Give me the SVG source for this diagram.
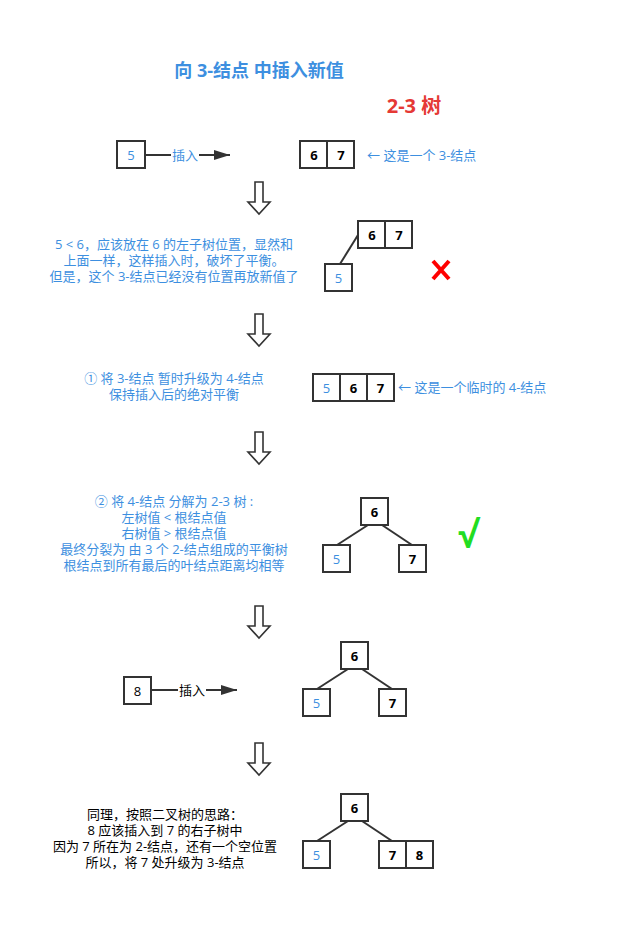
<svg xmlns="http://www.w3.org/2000/svg" width="618" height="930" viewBox="0 0 618 930">
<style>
text{font-family:"Open Sans","Noto Sans CJK SC",sans-serif;font-size:13px}
.b{fill:#3d8fe0}.k{fill:#000}
.n{fill:#fff;stroke:#333;stroke-width:2}
.v{font-size:13px;font-weight:bold;text-anchor:middle}
.c{text-anchor:middle}
.l{stroke:#333;stroke-width:2;fill:none}
.d{fill:#fff;stroke:#333;stroke-width:1.6}
</style>
<defs>
<marker id="ah" markerWidth="16" markerHeight="10" refX="16" refY="5" orient="auto" markerUnits="userSpaceOnUse"><path d="M0,0L16,5L0,10z" fill="#333"/></marker>
<path id="da" d="M-4,0H4V20H11L0,32L-11,20H-4Z"/>
</defs>
<rect width="618" height="930" fill="#fff"/>
<text x="259" y="77" class="b c" style="font-size:18px;font-weight:bold">向 3-结点 中插入新值</text>
<text x="414" y="113" class="c" style="font-size:20px;font-weight:bold;fill:#e53935">2-3 树</text>
<g id="connectors">
<line x1="145" y1="155" x2="230" y2="155" class="l" marker-end="url(#ah)"/>
<line x1="151" y1="690" x2="237" y2="690" class="l" marker-end="url(#ah)"/>
<line x1="340" y1="264" x2="358" y2="235" class="l"/>
<line x1="368" y1="525" x2="337" y2="545" class="l"/>
<line x1="382" y1="525" x2="412" y2="545" class="l"/>
<line x1="348" y1="669" x2="317" y2="689" class="l"/>
<line x1="362" y1="669" x2="392" y2="689" class="l"/>
<line x1="348" y1="821" x2="317" y2="841" class="l"/>
<line x1="362" y1="821" x2="392" y2="841" class="l"/>
<use href="#da" x="259" y="182" class="d"/>
<use href="#da" x="259" y="314" class="d"/>
<use href="#da" x="259" y="432" class="d"/>
<use href="#da" x="259" y="606" class="d"/>
<use href="#da" x="259" y="743" class="d"/>
</g>
<rect x="171" y="146" width="28" height="18" fill="#fff"/>
<text x="185" y="160" class="b c">插入</text>
<rect x="178" y="681" width="28" height="18" fill="#fff"/>
<text x="192" y="695" class="k c">插入</text>
<g id="n1"><rect x="117" y="141" width="28" height="27" class="n"/><text x="131" y="160" class="b c">5</text></g>
<g id="n2"><rect x="300" y="141" width="54" height="27" class="n"/><line x1="327" y1="141" x2="327" y2="168" class="l"/><text x="314" y="160" class="v">6</text><text x="341" y="160" class="v">7</text></g>
<text x="367" y="160" class="b">← 这是一个 3-结点</text>
<text x="174" y="249" class="b c">5 &lt; 6，应该放在 6 的左子树位置，显然和</text>
<text x="174" y="265" class="b c">上面一样，这样插入时，破坏了平衡。</text>
<text x="174" y="281" class="b c">但是，这个 3-结点已经没有位置再放新值了</text>
<g id="n3"><rect x="358" y="221" width="54" height="27" class="n"/><line x1="385" y1="221" x2="385" y2="248" class="l"/><text x="372" y="240" class="v">6</text><text x="399" y="240" class="v">7</text></g>
<g id="n4"><rect x="325" y="264" width="27" height="27" class="n"/><text x="338.5" y="283" class="b c">5</text></g>
<path d="M433,261L449,279M449,261L433,279" stroke="#f00" stroke-width="4"/>
<text x="174" y="383" class="b c">① 将 3-结点 暂时升级为 4-结点</text>
<text x="174" y="399" class="b c">保持插入后的绝对平衡</text>
<g id="n5"><rect x="313" y="374" width="81" height="27" class="n"/><line x1="340" y1="374" x2="340" y2="401" class="l"/><line x1="367" y1="374" x2="367" y2="401" class="l"/><text x="326.5" y="393" class="b c">5</text><text x="353.5" y="393" class="v">6</text><text x="380.5" y="393" class="v">7</text></g>
<text x="398" y="392" class="b">← 这是一个临时的 4-结点</text>
<text x="174" y="506" class="b c">② 将 4-结点 分解为 2-3 树 :</text>
<text x="174" y="522" class="b c">左树值 &lt; 根结点值</text>
<text x="174" y="538" class="b c">右树值 &gt; 根结点值</text>
<text x="174" y="554" class="b c">最终分裂为 由 3 个 2-结点组成的平衡树</text>
<text x="174" y="570" class="b c">根结点到所有最后的叶结点距离均相等</text>
<g id="n6"><rect x="361" y="498" width="27" height="27" class="n"/><text x="374.5" y="517" class="v">6</text></g>
<g id="n7"><rect x="323" y="545" width="27" height="27" class="n"/><text x="336.5" y="564" class="b c">5</text></g>
<g id="n8"><rect x="399" y="545" width="27" height="27" class="n"/><text x="412.5" y="564" class="v">7</text></g>
<text x="468" y="548" class="c" style="font-size:36px;font-weight:bold;fill:#22dd22">√</text>
<g id="n9"><rect x="124" y="677" width="27" height="27" class="n"/><text x="137.5" y="696" class="k c">8</text></g>
<g id="n10"><rect x="341" y="642" width="27" height="27" class="n"/><text x="354.5" y="661" class="v">6</text></g>
<g id="n11"><rect x="303" y="689" width="27" height="27" class="n"/><text x="316.5" y="708" class="b c">5</text></g>
<g id="n12"><rect x="379" y="689" width="27" height="27" class="n"/><text x="392.5" y="708" class="v">7</text></g>
<text x="165" y="819" class="k c">同理，按照二叉树的思路：</text>
<text x="165" y="835" class="k c">8 应该插入到 7 的右子树中</text>
<text x="165" y="851" class="k c">因为 7 所在为 2-结点，还有一个空位置</text>
<text x="165" y="867" class="k c">所以，将 7 处升级为 3-结点</text>
<g id="n13"><rect x="341" y="794" width="27" height="27" class="n"/><text x="354.5" y="813" class="v">6</text></g>
<g id="n14"><rect x="303" y="841" width="27" height="27" class="n"/><text x="316.5" y="860" class="b c">5</text></g>
<g id="n15"><rect x="379" y="841" width="54" height="27" class="n"/><line x1="406" y1="841" x2="406" y2="868" class="l"/><text x="392.5" y="860" class="v">7</text><text x="419.5" y="860" class="v">8</text></g>
</svg>
